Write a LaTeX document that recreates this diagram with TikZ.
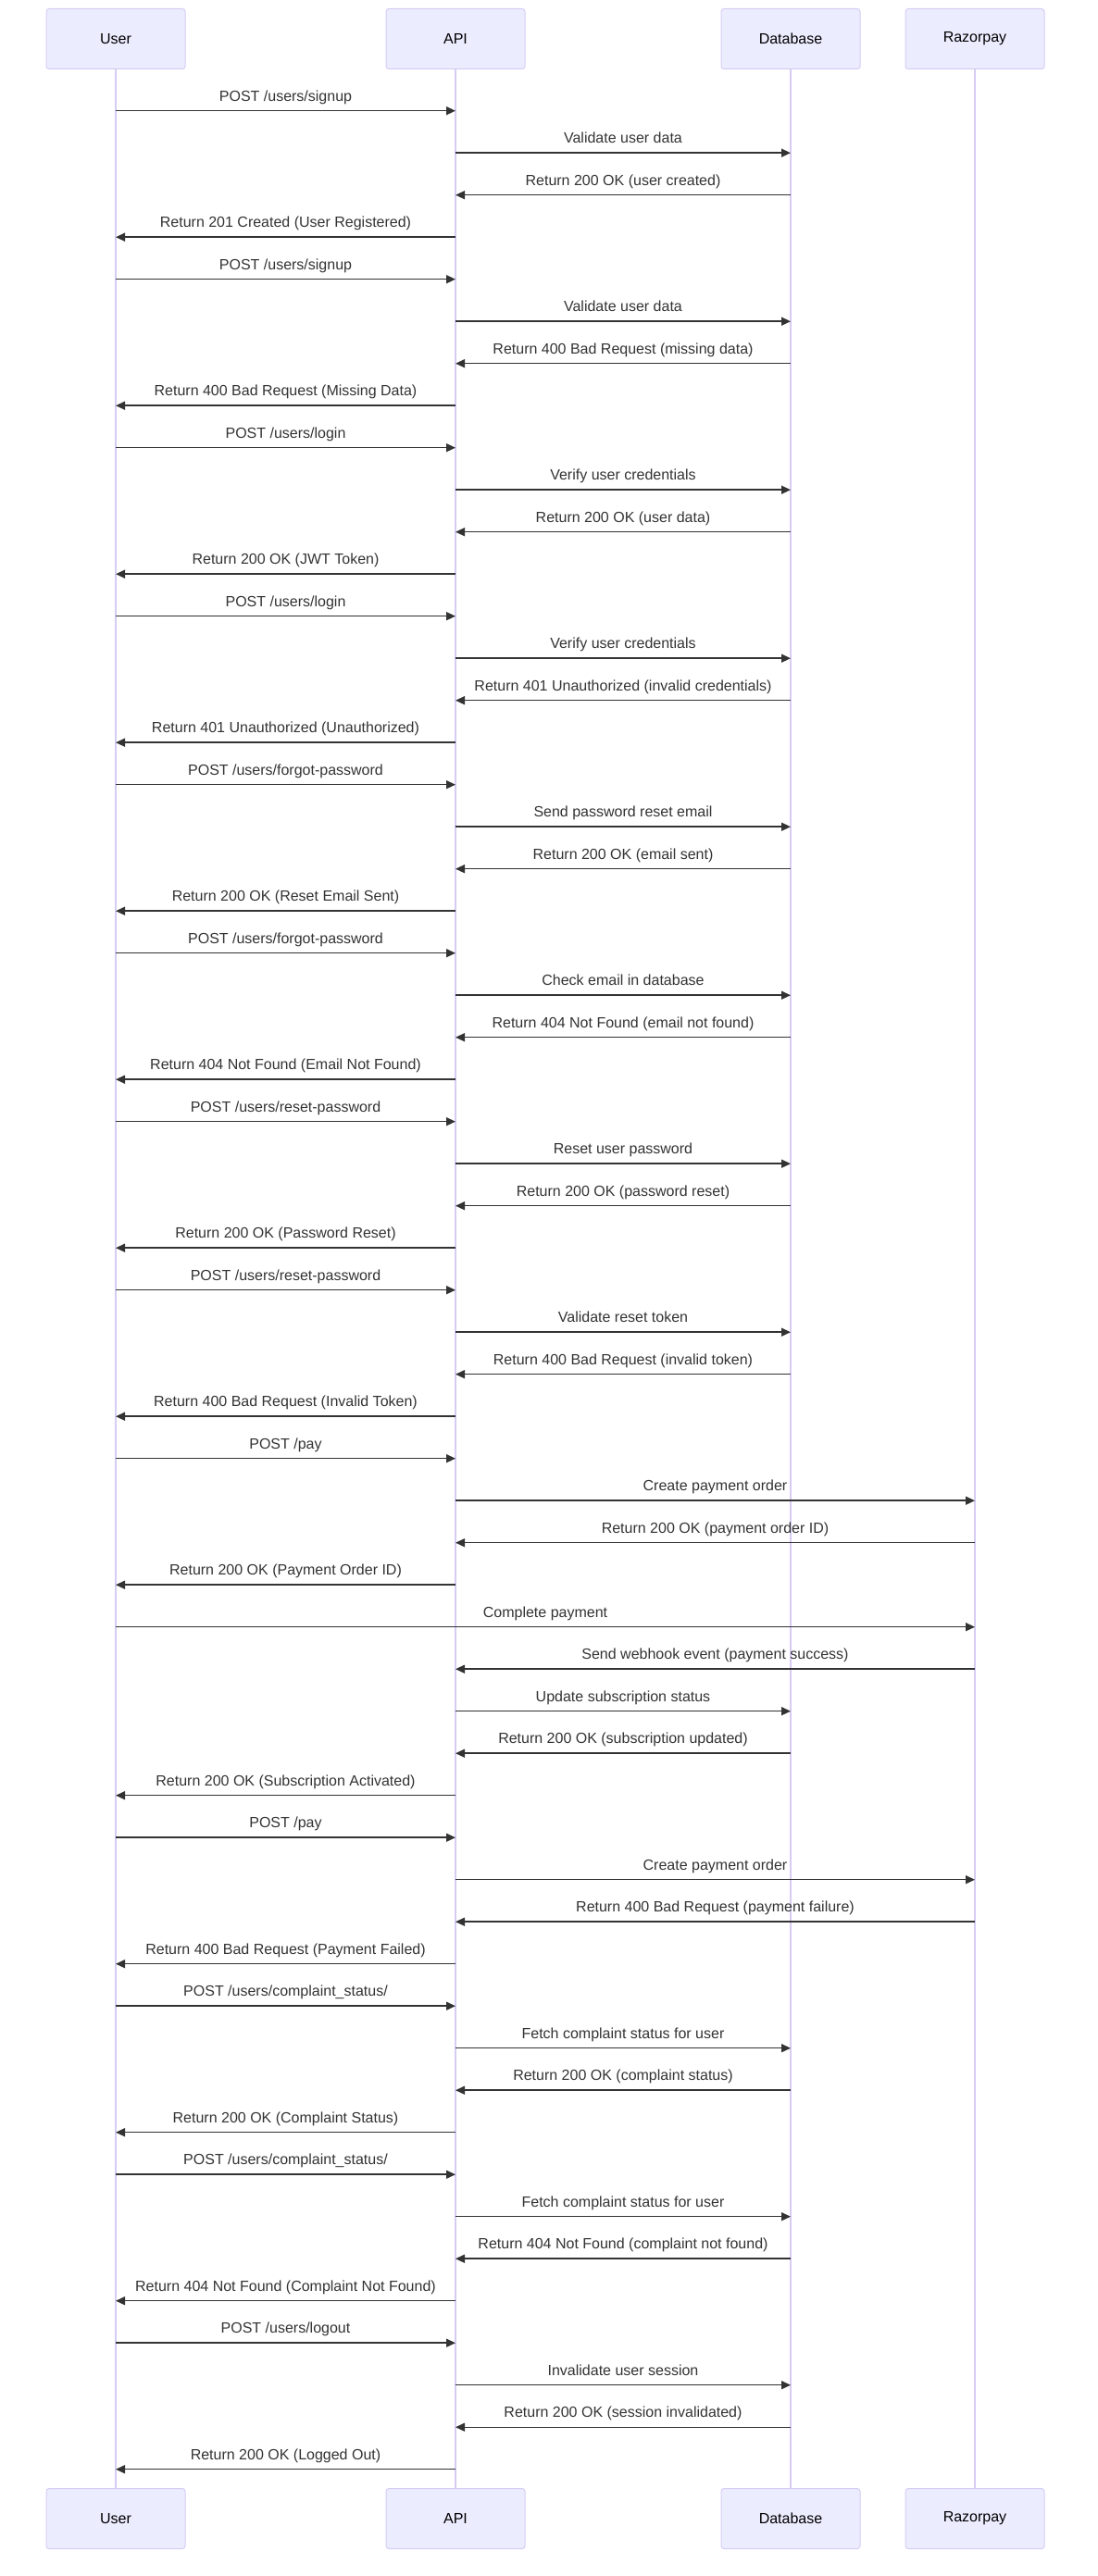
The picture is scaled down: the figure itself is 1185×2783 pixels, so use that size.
\documentclass[tikz,border=0pt]{standalone}
\usepackage{fontspec}
\setmainfont{Liberation Sans}
\usetikzlibrary{arrows.meta}
\definecolor{actorbg}{HTML}{ECECFF}
\definecolor{actorborder}{HTML}{D6CCF4}
\definecolor{msgcol}{HTML}{333333}
\tikzset{
  actorbox/.style={draw=actorborder, fill=actorbg, line width=0.75pt, rounded corners=2.25pt,
    minimum width=112.5pt, minimum height=48.75pt, inner sep=0pt, text=black,
    font=\fontsize{12pt}{14pt}\selectfont},
  lifeline/.style={draw=actorborder, line width=0.9pt},
  msgline/.style={draw=msgcol, line width=1.1pt, -{Triangle[length=7.5pt,width=6.75pt]}},
  msglabel/.style={midway, anchor=base, yshift=7.9pt, inner sep=0pt, text=msgcol,
    font=\fontsize{12pt}{14pt}\selectfont}
}
\newcommand\sqmsg[4]{%
  \pgfmathsetmacro\yy{119.7+(#1-1)*45.5}%
  \coordinate (m#1a) at (#2 |- 0,\yy);
  \coordinate (m#1b) at (#3 |- 0,\yy);
  \draw[msgline] (m#1a) -- node[msglabel]{#4} (m#1b);
}
\begin{document}
\begin{tikzpicture}[x=0.75pt, y=-0.75pt]
\useasboundingbox (0,0) rectangle (1185,2783);
% actors top
\node[actorbox] (uT) at (125,42) {User};
\node[actorbox] (aT) at (492,42) {API};
\node[actorbox] (dT) at (854,42) {Database};
\node[actorbox] (rT) at (1053,42) {Razorpay};
% actors bottom
\node[actorbox] (uB) at (125,2721) {User};
\node[actorbox] (aB) at (492,2721) {API};
\node[actorbox] (dB) at (854,2721) {Database};
\node[actorbox] (rB) at (1053,2721) {Razorpay};
% lifelines
\draw[lifeline] (uT.south) -- (uB.north);
\draw[lifeline] (aT.south) -- (aB.north);
\draw[lifeline] (dT.south) -- (dB.north);
\draw[lifeline] (rT.south) -- (rB.north);
% messages
\sqmsg{1}{uT}{aT}{POST /users/signup}
\sqmsg{2}{aT}{dT}{Validate user data}
\sqmsg{3}{dT}{aT}{Return 200 OK (user created)}
\sqmsg{4}{aT}{uT}{Return 201 Created (User Registered)}
\sqmsg{5}{uT}{aT}{POST /users/signup}
\sqmsg{6}{aT}{dT}{Validate user data}
\sqmsg{7}{dT}{aT}{Return 400 Bad Request (missing data)}
\sqmsg{8}{aT}{uT}{Return 400 Bad Request (Missing Data)}
\sqmsg{9}{uT}{aT}{POST /users/login}
\sqmsg{10}{aT}{dT}{Verify user credentials}
\sqmsg{11}{dT}{aT}{Return 200 OK (user data)}
\sqmsg{12}{aT}{uT}{Return 200 OK (JWT Token)}
\sqmsg{13}{uT}{aT}{POST /users/login}
\sqmsg{14}{aT}{dT}{Verify user credentials}
\sqmsg{15}{dT}{aT}{Return 401 Unauthorized (invalid credentials)}
\sqmsg{16}{aT}{uT}{Return 401 Unauthorized (Unauthorized)}
\sqmsg{17}{uT}{aT}{POST /users/forgot-password}
\sqmsg{18}{aT}{dT}{Send password reset email}
\sqmsg{19}{dT}{aT}{Return 200 OK (email sent)}
\sqmsg{20}{aT}{uT}{Return 200 OK (Reset Email Sent)}
\sqmsg{21}{uT}{aT}{POST /users/forgot-password}
\sqmsg{22}{aT}{dT}{Check email in database}
\sqmsg{23}{dT}{aT}{Return 404 Not Found (email not found)}
\sqmsg{24}{aT}{uT}{Return 404 Not Found (Email Not Found)}
\sqmsg{25}{uT}{aT}{POST /users/reset-password}
\sqmsg{26}{aT}{dT}{Reset user password}
\sqmsg{27}{dT}{aT}{Return 200 OK (password reset)}
\sqmsg{28}{aT}{uT}{Return 200 OK (Password Reset)}
\sqmsg{29}{uT}{aT}{POST /users/reset-password}
\sqmsg{30}{aT}{dT}{Validate reset token}
\sqmsg{31}{dT}{aT}{Return 400 Bad Request (invalid token)}
\sqmsg{32}{aT}{uT}{Return 400 Bad Request (Invalid Token)}
\sqmsg{33}{uT}{aT}{POST /pay}
\sqmsg{34}{aT}{rT}{Create payment order}
\sqmsg{35}{rT}{aT}{Return 200 OK (payment order ID)}
\sqmsg{36}{aT}{uT}{Return 200 OK (Payment Order ID)}
\sqmsg{37}{uT}{rT}{Complete payment}
\sqmsg{38}{rT}{aT}{Send webhook event (payment success)}
\sqmsg{39}{aT}{dT}{Update subscription status}
\sqmsg{40}{dT}{aT}{Return 200 OK (subscription updated)}
\sqmsg{41}{aT}{uT}{Return 200 OK (Subscription Activated)}
\sqmsg{42}{uT}{aT}{POST /pay}
\sqmsg{43}{aT}{rT}{Create payment order}
\sqmsg{44}{rT}{aT}{Return 400 Bad Request (payment failure)}
\sqmsg{45}{aT}{uT}{Return 400 Bad Request (Payment Failed)}
\sqmsg{46}{uT}{aT}{POST /users/complaint\_status/}
\sqmsg{47}{aT}{dT}{Fetch complaint status for user}
\sqmsg{48}{dT}{aT}{Return 200 OK (complaint status)}
\sqmsg{49}{aT}{uT}{Return 200 OK (Complaint Status)}
\sqmsg{50}{uT}{aT}{POST /users/complaint\_status/}
\sqmsg{51}{aT}{dT}{Fetch complaint status for user}
\sqmsg{52}{dT}{aT}{Return 404 Not Found (complaint not found)}
\sqmsg{53}{aT}{uT}{Return 404 Not Found (Complaint Not Found)}
\sqmsg{54}{uT}{aT}{POST /users/logout}
\sqmsg{55}{aT}{dT}{Invalidate user session}
\sqmsg{56}{dT}{aT}{Return 200 OK (session invalidated)}
\sqmsg{57}{aT}{uT}{Return 200 OK (Logged Out)}
\end{tikzpicture}
\end{document}
